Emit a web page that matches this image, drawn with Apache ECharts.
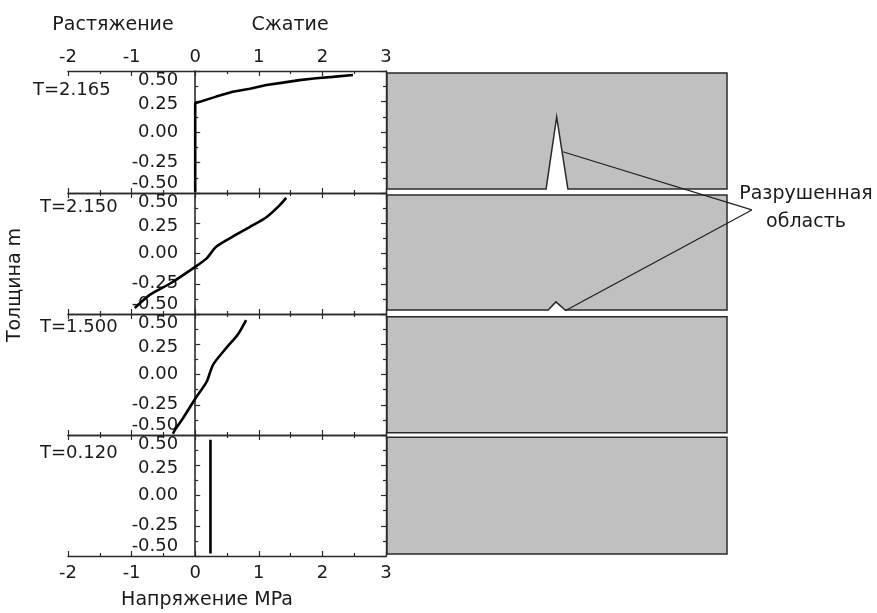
<!DOCTYPE html>
<html>
<head>
<meta charset="utf-8">
<script src="https://cdn.jsdelivr.net/npm/echarts@6/dist/echarts.min.js"></script>
<style>html,body{margin:0;padding:0;background:#fff}#c{width:877px;height:613px}</style>
</head>
<body>
<div id="c"></div>
<script>
// ---------- data ----------
const panelLabels = ['T=2.165', 'T=2.150', 'T=1.500', 'T=0.120'];
const xTickMin = -2, xTickMax = 3, xTickStep = 1;
const yTickMin = -0.5, yTickMax = 0.5, yTickStep = 0.25;

// stress (MPa) and thickness (m) per time step
const stress1 = [0, 0, 0.33, 0.59, 0.86, 1.12, 1.38, 1.64, 1.90, 2.16, 2.48];
const thick1  = [-0.49, 0.235, 0.29, 0.33, 0.355, 0.385, 0.405, 0.425, 0.44, 0.452, 0.467];
const stress2 = [-0.95, -0.71, -0.40, 0, 0.18, 0.33, 0.59, 0.86, 1.12, 1.33, 1.43];
const thick2  = [-0.45, -0.34, -0.25, -0.11, -0.04, 0.056, 0.14, 0.22, 0.30, 0.40, 0.46];
const stress3 = [-0.35, -0.32, -0.19, 0, 0.18, 0.28, 0.49, 0.67, 0.80];
const thick3  = [-0.49, -0.46, -0.36, -0.20, -0.06, 0.08, 0.22, 0.33, 0.45];
const stress4 = [0.24, 0.24];
const thick4  = [-0.48, 0.46];

// beam sketches (x: 0..1 along beam, y: thickness)
const beamTop    = [0.484, 0.483, 0.478, 0.481];
const beamBottom = [-0.467, -0.467, -0.481, -0.483];
const crack1 = [[0.468, -0.467], [0.499, 0.123], [0.532, -0.467]];
const crack2 = [[0.474, -0.467], [0.497, -0.40], [0.524, -0.467]];
const cracks = [crack1, crack2, [], []];

// annotation leader lines (overlay coords)
const leaderX = [0.517, 1.073, 0.524];
const leaderY = [-0.166, -0.646, -1.477];

// ---------- layout ----------
const FONT = 'DejaVu Sans';
const FS = 18;
const TXT = '#1a1a1a';
const AX = '#2a2a2a';
const panelTops = [71, 193, 314, 435];
const panelH = [122, 121, 121, 121];
const leftL = 68, leftW = 318;
const rightL = 387, rightW = 340;
const zeroOffset = -leftW * (0 - xTickMin) / (xTickMax - xTickMin);

const stresses = [stress1, stress2, stress3, stress4];
const thicks = [thick1, thick2, thick3, thick4];

const grid = [], xAxis = [], yAxis = [], series = [];
for (let i = 0; i < 4; i++) {
  grid.push({left: leftL, width: leftW, top: panelTops[i], height: panelH[i], containLabel: false});
}
for (let i = 0; i < 4; i++) {
  grid.push({left: rightL, width: rightW, top: panelTops[i], height: panelH[i]});
}
grid.push({left: rightL, width: 490, top: 71, height: 485});

function xAx(i, pos, showLabel) {
  return {
    type: 'value', gridIndex: i, position: pos, min: xTickMin, max: xTickMax, interval: xTickStep,
    axisLine: {show: true, onZero: false, lineStyle: {color: AX, width: 1.4}},
    axisTick: {show: true, inside: true, length: 5, lineStyle: {color: AX, width: 1.2}},
    minorTick: {show: true, splitNumber: 2, length: 3, lineStyle: {color: AX, width: 1.2}},
    splitLine: {show: false}, minorSplitLine: {show: false},
    axisLabel: {show: showLabel, fontFamily: FONT, fontSize: FS, color: TXT, margin: pos === 'top' ? 5 : 8,
      formatter: v => String(Math.round(v))}
  };
}
for (let i = 0; i < 4; i++) xAxis.push(xAx(i, 'bottom', i === 3));   // 0..3
for (let i = 0; i < 4; i++) xAxis.push(xAx(i, 'top', i === 0));      // 4..7

const richBase = {fontFamily: FONT, fontSize: FS, color: TXT};
for (let i = 0; i < 4; i++) {   // yAxis 0..3 : axis at stress = 0
  yAxis.push({
    type: 'value', gridIndex: i, min: yTickMin, max: yTickMax, interval: yTickStep, position: 'left',
    offset: zeroOffset,
    axisLine: {show: true, onZero: false, lineStyle: {color: AX, width: 1.6}},
    axisTick: {show: true, inside: true, length: 5, lineStyle: {color: AX, width: 1.2}},
    minorTick: {show: true, splitNumber: 2, length: 3, lineStyle: {color: AX, width: 1.2}},
    splitLine: {show: false},
    axisLabel: {
      show: true, margin: 17, fontFamily: FONT, fontSize: FS, color: TXT,
      formatter: function (v) {
        const s = (Math.abs(v) < 1e-9 ? 0 : v).toFixed(2);
        if (v > 0.49) return '{t|' + s + '}';
        if (v < -0.49) return '{b|' + s + '}';
        if (Math.abs(v - 0.25) < 1e-6) return '{m|' + s + '}';
        return s;
      },
      rich: {
        t: Object.assign({padding: [18, 0, 0, 0]}, richBase),
        b: Object.assign({padding: [0, 0, 20, 0]}, richBase),
        m: Object.assign({padding: [6, 0, 0, 0]}, richBase)
      }
    }
  });
}
for (let i = 0; i < 4; i++) {   // yAxis 4..7 : right frame
  yAxis.push({
    type: 'value', gridIndex: i, min: yTickMin, max: yTickMax, interval: yTickStep, position: 'right',
    axisLine: {show: true, onZero: false, lineStyle: {color: AX, width: 1.4}},
    axisTick: {show: true, inside: true, length: 5, lineStyle: {color: AX, width: 1.2}},
    minorTick: {show: true, splitNumber: 2, length: 3, lineStyle: {color: AX, width: 1.2}},
    splitLine: {show: false}, axisLabel: {show: false}
  });
}
for (let i = 0; i < 4; i++) {   // x/y axes 8..11 : beam sketches
  xAxis.push({type: 'value', gridIndex: 4 + i, min: 0, max: 1, show: false});
  yAxis.push({type: 'value', gridIndex: 4 + i, min: yTickMin, max: yTickMax, show: false});
}
// axes 12 : overlay for leader lines
xAxis.push({type: 'value', gridIndex: 8, min: 0, max: 490 / rightW, show: false});
yAxis.push({type: 'value', gridIndex: 8, min: -3.5, max: 0.5, show: false});

// stress profile curves
for (let i = 0; i < 4; i++) {
  series.push({
    type: 'line', xAxisIndex: i, yAxisIndex: i, symbol: 'none', smooth: i === 1 || i === 2 ? 0.25 : false,
    lineStyle: {color: '#000', width: 2.6}, clip: false, z: 5,
    data: stresses[i].map((x, k) => [x, thicks[i][k]])
  });
}

// beam sketches
for (let i = 0; i < 4; i++) {
  const poly = [[0, beamBottom[i]], [0, beamTop[i]], [1, beamTop[i]], [1, beamBottom[i]]]
    .concat(cracks[i].slice().reverse());
  series.push({
    type: 'custom', xAxisIndex: 8 + i, yAxisIndex: 8 + i, clip: false, z: 2,
    data: [[0, 0]],
    renderItem: function (params, api) {
      return {
        type: 'polygon',
        shape: {points: poly.map(p => api.coord(p))},
        style: {fill: '#c0c0c0', stroke: '#2a2a2a', lineWidth: 1.5}
      };
    }
  });
}

// leader lines
series.push({
  type: 'line', xAxisIndex: 12, yAxisIndex: 12, symbol: 'none', clip: false, z: 6,
  lineStyle: {color: '#222', width: 1.3},
  data: leaderX.map((x, k) => [x, leaderY[k]])
});

const f18 = FS + 'px "' + FONT + '"';
const f19 = '19px "' + FONT + '"';
const graphic = [
  {type: 'text', x: 113, y: 25, style: {text: 'Растяжение', font: f19, fill: TXT, align: 'center', verticalAlign: 'middle'}},
  {type: 'text', x: 290, y: 25, style: {text: 'Сжатие', font: f19, fill: TXT, align: 'center', verticalAlign: 'middle'}},
  {type: 'text', x: 207, y: 600, style: {text: 'Напряжение MPa', font: f19, fill: TXT, align: 'center', verticalAlign: 'middle'}},
  {type: 'text', x: 15, y: 285, rotation: Math.PI / 2, style: {text: 'Толщина m', font: f19, fill: TXT, align: 'center', verticalAlign: 'middle'}},
  {type: 'text', x: 806, y: 194, style: {text: 'Разрушенная', font: f19, fill: TXT, align: 'center', verticalAlign: 'middle'}},
  {type: 'text', x: 806, y: 222, style: {text: 'область', font: f19, fill: TXT, align: 'center', verticalAlign: 'middle'}}
];
const labelY = [90, 207, 327, 453];
const labelX = [33, 40, 40, 40];
for (let i = 0; i < 4; i++) {
  graphic.push({type: 'text', x: labelX[i], y: labelY[i], style: {text: panelLabels[i], font: f18, fill: TXT, align: 'left', verticalAlign: 'middle'}});
}

const chart = echarts.init(document.getElementById('c'), null, {renderer: 'canvas'});
chart.setOption({
  animation: false,
  backgroundColor: '#fff',
  grid: grid, xAxis: xAxis, yAxis: yAxis, series: series, graphic: graphic
});
</script>
</body>
</html>
